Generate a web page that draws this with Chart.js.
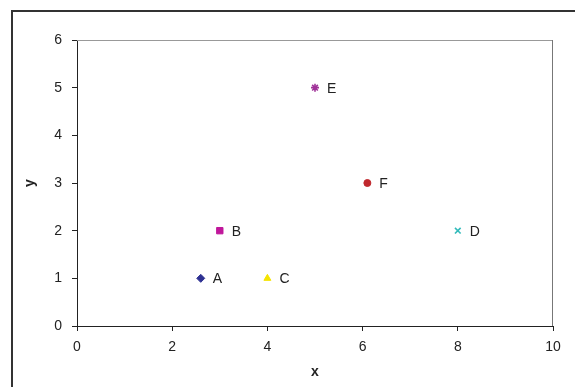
<!DOCTYPE html>
<html>
<head>
<meta charset="utf-8">
<script src="https://cdn.jsdelivr.net/npm/chart.js@4.4.1/dist/chart.umd.min.js"></script>
<style>
  body { margin: 0; background: #fff; overflow: hidden; }
  #wrap { position: relative; width: 575px; height: 387px; overflow: hidden; }
  #frame { position: absolute; left: 11px; top: 10px; width: 700px; height: 500px; border: 2px solid #333; }
  canvas { position: absolute; left: 0; top: 0; }
</style>
</head>
<body>
<div id="wrap">
  <div id="frame"></div>
  <canvas id="chart" width="575" height="387"></canvas>
</div>
<script>
const names = ["A", "B", "C", "D", "E", "F"];
const xs = [2.6, 3, 4, 8, 5, 6.1];
const ys = [1, 2, 1, 2, 5, 3];

const pointColors = ["#2E3192", "#C0179B", "#F5E400", "#33BBBB", "#A03399", "#C0282D"];
const pointShapes = ["rectRot", "rect", "triangle", "crossRot", "star", "circle"];
const pointSizes = [4, 4.5, 4, 4, 4, 3.5];
const pointLines = [1, 1, 1, 1.6, 1.6, 1];

const font = "Liberation Sans, Arial, sans-serif";

// plot area border: grey top and right edges
const plotBorder = {
  id: "plotBorder",
  beforeDatasetsDraw(chart) {
    const { ctx, chartArea: a } = chart;
    ctx.save();
    ctx.lineWidth = 1;
    ctx.strokeStyle = "#999";
    ctx.beginPath();
    ctx.moveTo(a.left, a.top + 0.5);
    ctx.lineTo(a.right, a.top + 0.5);
    ctx.stroke();
    ctx.strokeStyle = "#777";
    ctx.beginPath();
    ctx.moveTo(a.right - 0.5, a.top);
    ctx.lineTo(a.right - 0.5, a.bottom);
    ctx.stroke();
    ctx.restore();
  }
};

// letter next to each point
const pointNames = {
  id: "pointNames",
  afterDatasetsDraw(chart) {
    const { ctx } = chart;
    const meta = chart.getDatasetMeta(0);
    ctx.save();
    ctx.font = "14px " + font;
    ctx.fillStyle = "#222";
    ctx.textAlign = "left";
    ctx.textBaseline = "middle";
    meta.data.forEach((p, i) => {
      ctx.fillText(names[i], p.x + 12, p.y + 1);
    });
    ctx.restore();
  }
};

new Chart(document.getElementById("chart"), {
  type: "scatter",
  data: {
    datasets: [{
      data: xs.map((x, i) => ({ x: x, y: ys[i] })),
      pointStyle: pointShapes,
      pointRadius: pointSizes,
      pointBackgroundColor: pointColors,
      pointBorderColor: pointColors,
      pointBorderWidth: pointLines
    }]
  },
  options: {
    responsive: false,
    animation: false,
    layout: { padding: { top: 40, right: 22, left: 0, bottom: 0 } },
    plugins: { legend: { display: false }, tooltip: { enabled: false } },
    scales: {
      x: {
        type: "linear",
        min: 0, max: 10,
        afterFit(s) { s.height = 61; },
        ticks: { stepSize: 2, padding: 8, color: "#222", font: { family: font, size: 14 } },
        grid: { drawOnChartArea: false, drawTicks: true, tickLength: 5, color: "#222" },
        border: { color: "#222", width: 1 },
        title: { display: true, text: "x", color: "#222", padding: { top: 0, bottom: 6 },
                 font: { family: font, size: 14, weight: "bold" } }
      },
      y: {
        type: "linear",
        min: 0, max: 6,
        afterFit(s) { s.width = 77; },
        ticks: { stepSize: 1, padding: 10, color: "#222", font: { family: font, size: 14 } },
        grid: { drawOnChartArea: false, drawTicks: true, tickLength: 5, color: "#222" },
        border: { color: "#222", width: 1 },
        title: { display: true, text: "y", color: "#222", padding: { top: 22, bottom: 0 },
                 font: { family: font, size: 14, weight: "bold" } }
      }
    }
  },
  plugins: [plotBorder, pointNames]
});
</script>
</body>
</html>
